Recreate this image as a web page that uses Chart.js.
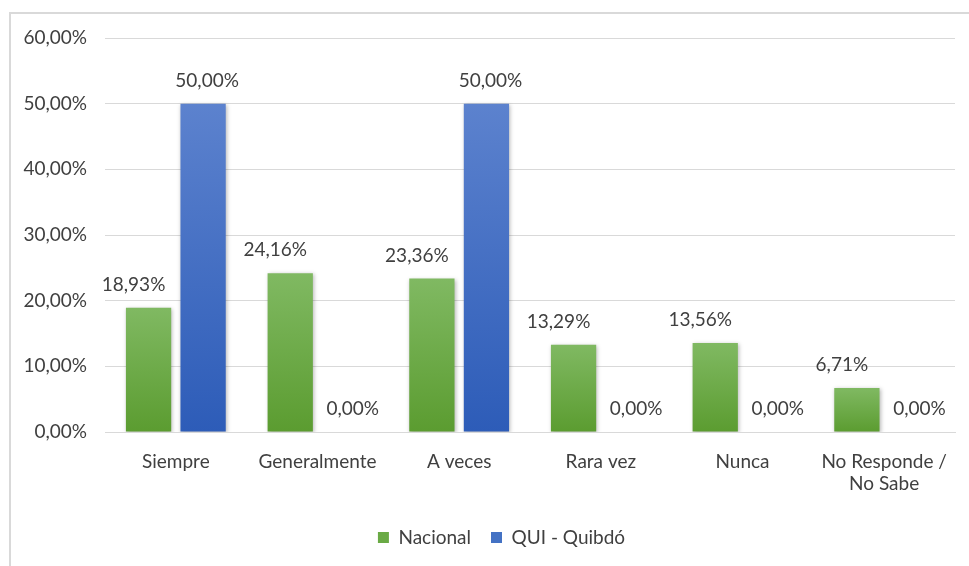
<!DOCTYPE html>
<html>
<head>
<meta charset="utf-8">
<script src="https://cdn.jsdelivr.net/npm/chart.js@4.4.0/dist/chart.umd.min.js"></script>
<style>
  html, body { margin: 0; padding: 0; background: #fff; overflow: hidden; }
  #frame {
    position: absolute; left: 9px; top: 12px;
    width: 980px; height: 580px;
    border: 2px solid #d9d9d9; box-sizing: border-box;
  }
  #wrap { position: absolute; left: 0; top: 0; width: 969px; height: 566px; }
</style>
</head>
<body>
<div id="frame"></div>
<div id="wrap"><canvas id="barChart"></canvas></div>
<script>
// answer categories and the two series (percent)
const categories = ['Siempre', 'Generalmente', 'A veces', 'Rara vez', 'Nunca', ['No Responde /', 'No Sabe']];
const nacional = [18.93, 24.16, 23.36, 13.29, 13.56, 6.71];
const quibdo = [50.00, 0.00, 50.00, 0.00, 0.00, 0.00];
const yTicks = [0, 10, 20, 30, 40, 50, 60];

const FONT = 'Lato, "Open Sans", sans-serif';
const TEXT = '#404040';

// "18,93%" style
function pct(v){
    return v.toFixed(2).replace('.', ',') + '%';
};

// vertical gradient for each bar, light on top and darker at the base
function barGradient(top, bottom){
    return function(context){
        const chart = context.chart;
        const y = chart.scales.y;
        if(!chart.chartArea || !y || context.type !== 'data'){
            return bottom;
        };
        const v = context.raw || 0;
        const y0 = y.getPixelForValue(0);
        const y1 = y.getPixelForValue(v);
        if(Math.abs(y0 - y1) < 1) return bottom;
        const g = chart.ctx.createLinearGradient(0, y1, 0, y0);
        g.addColorStop(0, top);
        g.addColorStop(1, bottom);
        return g;
    };
};

// soft shadow behind the bars
const barShadow = {
    id: 'barShadow',
    beforeDatasetsDraw(chart){
        const ctx = chart.ctx;
        ctx.save();
        ctx.shadowColor = 'rgba(0,0,0,0.28)';
        ctx.shadowBlur = 4;
        ctx.shadowOffsetX = 1;
        ctx.shadowOffsetY = 1;
    },
    afterDatasetsDraw(chart){
        chart.ctx.restore();
    }
};

// nudge the legend a bit to the right of the canvas centre
const legendShift = {
    id: 'legendShift',
    afterLayout(chart){
        if(chart.legend){
            chart.legend.left += 24;
            chart.legend.right += 24;
        };
    }
};

// value labels above every bar
const valueLabels = {
    id: 'valueLabels',
    afterDraw(chart){
        const ctx = chart.ctx;
        ctx.save();
        ctx.font = '19px ' + FONT;
        ctx.fillStyle = TEXT;
        ctx.textAlign = 'center';
        ctx.textBaseline = 'middle';
        chart.data.datasets.forEach((ds, i) => {
            const meta = chart.getDatasetMeta(i);
            meta.data.forEach((bar, j) => {
                const v = ds.data[j];
                const shift = i === 0 ? -15 : (v === 0 ? 8 : 4);
                ctx.fillText(pct(v), bar.x + shift, bar.y - 23);
            });
        });
        ctx.restore();
    }
};

const context = document.getElementById('barChart');
new Chart(context, {
    type: 'bar',
    data: {
        labels: categories,
        datasets: [{
            label: 'Nacional',
            data: nacional,
            backgroundColor: barGradient('#80b962', '#5b9c30'),
            borderWidth: 0
        }, {
            label: 'QUI - Quibdó',
            data: quibdo,
            backgroundColor: barGradient('#5c82ce', '#2d5cb8'),
            borderWidth: 0
        }]
    },
    options: {
        responsive: true,
        maintainAspectRatio: false,
        animation: false,
        categoryPercentage: 0.77,
        barPercentage: 0.83,
        layout: { padding: { left: 0, right: 14, top: 38, bottom: 9 } },
        plugins: {
            tooltip: { enabled: false },
            legend: {
                position: 'bottom',
                labels: {
                    boxWidth: 11,
                    boxHeight: 11,
                    padding: 20,
                    color: TEXT,
                    font: { family: FONT, size: 19 },
                    generateLabels(chart){
                        const fills = ['#6aaa45', '#4472c4'];
                        return chart.data.datasets.map((ds, i) => ({
                            text: ds.label,
                            fillStyle: fills[i],
                            strokeStyle: fills[i],
                            lineWidth: 0,
                            fontColor: TEXT,
                            datasetIndex: i
                        }));
                    }
                }
            }
        },
        scales: {
            x: {
                grid: { display: false, drawTicks: false },
                border: { display: true, color: '#d9d9d9', width: 1 },
                ticks: {
                    color: TEXT,
                    padding: 18,
                    maxRotation: 0,
                    autoSkip: false,
                    font: { family: FONT, size: 19 }
                },
                afterFit(scale){ scale.height = 76; }
            },
            y: {
                min: 0,
                max: 60,
                grid: { color: '#d9d9d9', drawTicks: false },
                border: { display: false },
                afterBuildTicks(scale){
                    scale.ticks = yTicks.map(v => ({ value: v }));
                },
                ticks: {
                    color: TEXT,
                    padding: 18,
                    font: { family: FONT, size: 19 },
                    callback: (v) => pct(v)
                },
                afterFit(scale){ scale.width = 105; }
            }
        }
    },
    plugins: [barShadow, legendShift, valueLabels]
});
</script>
</body>
</html>
